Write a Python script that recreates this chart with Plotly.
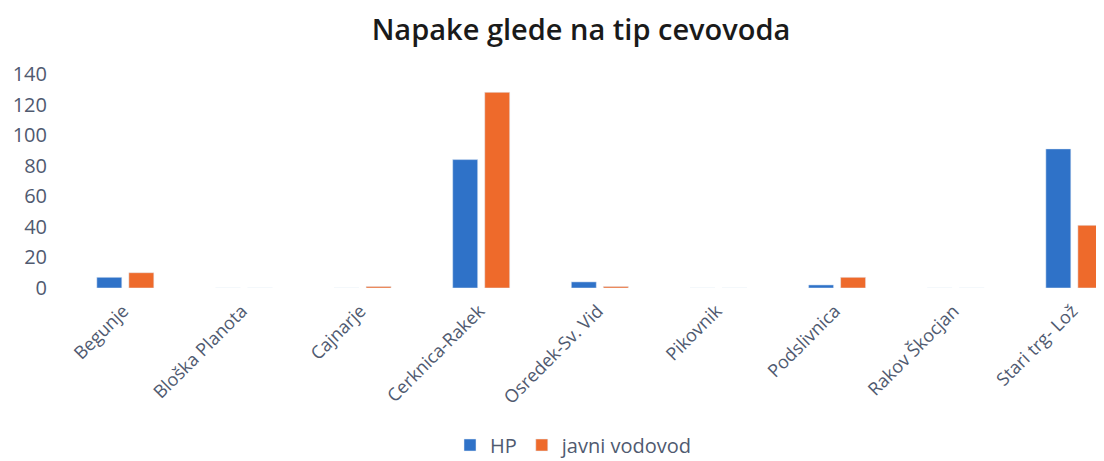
import plotly.graph_objects as go

categories = ["Begunje", "Bloška Planota", "Cajnarje", "Cerknica-Rakek", "Osredek-Sv. Vid",
              "Pikovnik", "Podslivnica", "Rakov Škocjan", "Stari trg- Lož"]
hp = [7, 0, 0, 84, 4, 0, 2, 0, 91]
javni = [10, 0, 1, 128, 1, 0, 7, 0, 41]

BLUE = "#2f72c8"
ORANGE = "#ee6a2b"
TXT = "#505a70"

# page body has an 8px default margin; compensate so the figure lands like the reference
W, H = 1096, 453

fig = go.Figure()
fig.add_trace(go.Bar(name="HP", x=categories, y=hp, marker_color=BLUE))
fig.add_trace(go.Bar(name="javni vodovod", x=categories, y=javni, marker_color=ORANGE))

fig.update_layout(
    width=W, height=H,
    margin=dict(l=58, r=0, t=66, b=173, autoexpand=False),
    paper_bgcolor="white", plot_bgcolor="white",
    barmode="group", bargap=0.46, bargroupgap=0.22,
    font=dict(family="Open Sans, sans-serif", color=TXT, size=15),
    title=dict(text="Napake glede na tip cevovoda", x=(581 - 8) / W, xanchor="center",
               yref="container", y=1 - (30 - 8) / H, yanchor="middle",
               font=dict(size=29, color="#1a1a1a", family="Open Sans, sans-serif", weight=600)),
    xaxis=dict(range=[-0.5, 8.25], tickangle=-45, showgrid=False, showline=False,
               ticks="", tickfont=dict(size=18, color=TXT), automargin=False,
               ticklabelstandoff=8, ticklabelshift=-2),
    yaxis=dict(range=[0, 140], dtick=20, showgrid=False, zeroline=False, showline=False,
               tickfont=dict(size=20, color=TXT), ticks="", ticklabelstandoff=18,
               automargin=False),
    legend=dict(orientation="h", x=(450 - 58 - 8) / (W - 58), xanchor="left",
                y=-(445 - 288) / 214, yanchor="middle", itemwidth=30,
                font=dict(size=20, color=TXT)),
    showlegend=True,
)

fig.write_html("out.html")
